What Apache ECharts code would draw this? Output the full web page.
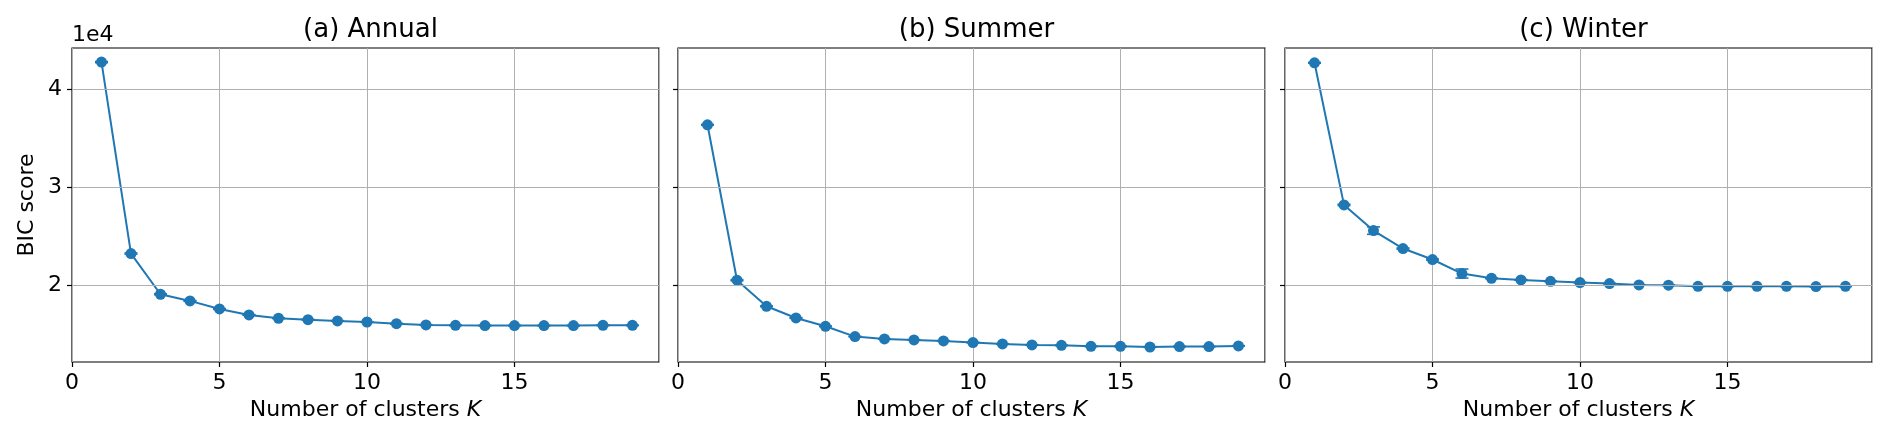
<!DOCTYPE html>
<html><head><meta charset="utf-8">
<script src="https://cdn.jsdelivr.net/npm/echarts@6/dist/echarts.min.js"></script>
<style>html,body{margin:0;padding:0;background:#fff}#c{width:1892px;height:438px}</style>
</head><body><div id="c"></div><script>
const K = [1,2,3,4,5,6,7,8,9,10,11,12,13,14,15,16,17,18,19];
const panelTitles = ['(a) Annual', '(b) Summer', '(c) Winter'];
const annual = [42720, 23200, 19050, 18370, 17550, 16940, 16600, 16460, 16330, 16220, 16050, 15920, 15880, 15850, 15850, 15850, 15850, 15880, 15880];
const summer = [36330, 20480, 17820, 16630, 15780, 14730, 14490, 14390, 14290, 14120, 13980, 13880, 13840, 13740, 13740, 13670, 13710, 13710, 13780];
const winter = [42650, 28160, 25540, 23710, 22590, 21160, 20680, 20510, 20370, 20240, 20140, 20000, 19970, 19860, 19860, 19860, 19860, 19830, 19860];
const annualErr = [60, 60, 50, 40, 40, 30, 30, 40, 30, 30, 40, 30, 30, 30, 30, 30, 30, 30, 30];
const summerErr = [40, 60, 40, 30, 30, 30, 30, 30, 30, 30, 30, 30, 30, 30, 30, 30, 30, 30, 30];
const winterErr = [40, 70, 380, 60, 60, 460, 40, 40, 30, 30, 30, 30, 30, 30, 30, 30, 30, 30, 30];
const yTicks = [20000, 30000, 40000];
const xTicks = [0, 5, 10, 15];

const color = '#1f77b4';
const FONT = 'DejaVu Sans';
const gridLefts = [72, 678, 1285];
const gridW = 587, gridTop = 48, gridH = 314;
const yMin = 12140, yMax = 44160;
const seriesVals = [annual, summer, winter];
const seriesErr = [annualErr, summerErr, winterErr];

const chart = echarts.init(document.getElementById('c'), null, {renderer: 'canvas'});
const grids = [], xAxes = [], yAxes = [], series = [], titles = [];
for (let i = 0; i < 3; i++) {
  grids.push({left: gridLefts[i], top: gridTop, width: gridW, height: gridH, show: true,
    borderColor: '#000', borderWidth: 1.2, backgroundColor: 'transparent', containLabel: false});
  titles.push({text: panelTitles[i], left: gridLefts[i] + gridW / 2, top: 12, textAlign: 'center',
    textStyle: {fontFamily: FONT, fontSize: 26, fontWeight: 'normal', color: '#000'}});
  xAxes.push({type: 'value', gridIndex: i, min: 0, max: 19.9, interval: 5,
    name: 'Number of clusters {i|K}', nameLocation: 'middle', nameGap: 36,
    nameTextStyle: {fontFamily: FONT, fontSize: 22, color: '#000',
      rich: {i: {fontFamily: FONT, fontSize: 22, fontStyle: 'italic', color: '#000'}}},
    axisLine: {show: false},
    axisTick: {show: true, inside: false, length: 5, lineStyle: {color: '#000', width: 1.2}},
    axisLabel: {show: true, margin: 10, fontFamily: FONT, fontSize: 22, color: '#000',
      showMaxLabel: false},
    splitLine: {show: true, lineStyle: {color: '#b0b0b0', width: 1}}});
  yAxes.push({type: 'value', gridIndex: i, min: yMin, max: yMax,
    name: i === 0 ? 'BIC score' : '', nameLocation: 'middle', nameGap: 34,
    nameTextStyle: {fontFamily: FONT, fontSize: 22, color: '#000'},
    axisLine: {show: false},
    axisTick: {show: true, inside: false, length: 5, customValues: yTicks, lineStyle: {color: '#000', width: 1.2}},
    axisLabel: {show: i === 0, margin: 10, customValues: yTicks, fontFamily: FONT, fontSize: 22, color: '#000',
      formatter: v => String(v / 10000)},
    splitLine: {show: false}});
  // horizontal grid lines at the y tick values
  series.push({type: 'line', xAxisIndex: i, yAxisIndex: i, data: [], silent: true, z: 1,
    markLine: {silent: true, symbol: 'none', label: {show: false}, animation: false,
      lineStyle: {color: '#b0b0b0', width: 1, type: 'solid'},
      data: yTicks.map(v => ({yAxis: v}))}});
  series.push({type: 'custom', xAxisIndex: i, yAxisIndex: i, z: 3, silent: true,
    data: K.map((k, j) => [k, seriesVals[i][j] - seriesErr[i][j], seriesVals[i][j] + seriesErr[i][j]]),
    encode: {x: 0, y: [1, 2]},
    renderItem: function (params, api) {
      const x = api.value(0), lo = api.value(1), hi = api.value(2);
      const a = api.coord([x, lo]), b = api.coord([x, hi]);
      const cap = 6.5;
      const st = {stroke: color, lineWidth: 1.6};
      return {type: 'group', children: [
        {type: 'line', shape: {x1: a[0], y1: a[1], x2: b[0], y2: b[1]}, style: st},
        {type: 'line', shape: {x1: a[0] - cap, y1: a[1], x2: a[0] + cap, y2: a[1]}, style: st},
        {type: 'line', shape: {x1: b[0] - cap, y1: b[1], x2: b[0] + cap, y2: b[1]}, style: st}
      ]};
    }});
  series.push({type: 'line', xAxisIndex: i, yAxisIndex: i, z: 4,
    data: K.map((k, j) => [k, seriesVals[i][j]]),
    symbol: 'circle', symbolSize: 11, showSymbol: true,
    lineStyle: {color: color, width: 2}, itemStyle: {color: color}});
}
chart.setOption({
  animation: false,
  backgroundColor: '#fff',
  title: titles,
  grid: grids, xAxis: xAxes, yAxis: yAxes, series: series,
  graphic: [{type: 'text', left: 72, top: 24,
    style: {text: '1e4', fontFamily: FONT, fontSize: 22, fill: '#000'}}]
});
</script></body></html>
